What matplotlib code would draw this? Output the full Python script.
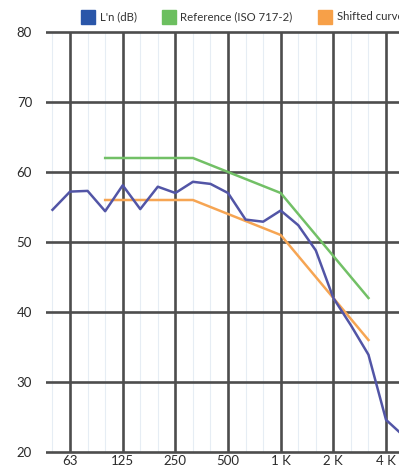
import matplotlib.pyplot as plt
import numpy as np

# third-octave band centres (Hz)
freqs = [50, 63, 80, 100, 125, 160, 200, 250, 315, 400, 500, 630, 800,
         1000, 1250, 1600, 2000, 2500, 3150, 4000, 5000]
octave_ticks = [63, 125, 250, 500, 1000, 2000, 4000]
octave_labels = ['63', '125', '250', '500', '1 K', '2 K', '4 K']

# measured L'n (dB), 50 Hz .. 5 kHz
ln_vals = [54.6, 57.2, 57.3, 54.4, 58.1, 54.7, 57.9, 57.0, 58.6, 58.3, 57.0,
           53.2, 52.9, 54.5, 52.4, 48.8, 42.0, 38.1, 33.9, 24.6, 22.3]

# ISO 717-2 reference curve, 100 Hz .. 3150 Hz
ref_freqs = freqs[3:19]
ref_vals = [62, 62, 62, 62, 62, 62, 61, 60, 59, 58, 57, 54, 51, 48, 45, 42]
shift = -6
shifted_vals = [v + shift for v in ref_vals]

c_blue = '#5255a6'
c_green = '#72c066'
c_orange = '#f6a553'

def idx(f_list):
    return [freqs.index(f) for f in f_list]

plt.rcParams['font.family'] = ['Lato', 'DejaVu Sans']

fig = plt.figure(figsize=(3.99, 4.69), dpi=100)
W, H = 399, 469
ylo, yhi = 19.6, 80.4
top_px = 32 - 0.4 * 7
bot_px = 452 + 0.4 * 7
ax = fig.add_axes([46 / W, 1 - bot_px / H, 1 - 46 / W, (bot_px - top_px) / H])

# grid
for i in range(len(freqs)):
    ax.vlines(i, 20, 80, color='#e6edf4', lw=0.8, zorder=1)
for f in octave_ticks:
    ax.vlines(freqs.index(f), 20, 80, color='#4d4d4d', lw=1.9, zorder=2)
for y in range(20, 81, 10):
    ax.axhline(y, color='#4d4d4d', lw=1.9, zorder=2)

x_all = np.arange(len(freqs))
ax.plot(x_all, ln_vals, color=c_blue, lw=1.8, zorder=5, label="L'n (dB)")
ax.plot(idx(ref_freqs), ref_vals, color=c_green, lw=1.8, zorder=4,
        label='Reference (ISO 717-2)')
ax.plot(idx(ref_freqs), shifted_vals, color=c_orange, lw=1.8, zorder=4,
        label='Shifted curve')

ax.set_xlim(-0.37, 19.74)
ax.set_ylim(ylo, yhi)
ax.set_xticks(idx(octave_ticks))
ax.set_xticklabels(octave_labels)
ax.set_yticks(range(20, 81, 10))
ax.tick_params(length=0, labelsize=9.5, colors='#2b2b2b')
ax.tick_params(axis='x', pad=0.5)
ax.tick_params(axis='y', pad=10)
for s in ax.spines.values():
    s.set_visible(False)

# legend with square swatches
handles = [plt.Line2D([], [], marker='s', ls='', markersize=9.4, color=c)
           for c in ['#2a56a9', '#6cbf5f', '#f7a048']]
labels = ["L'n (dB)", 'Reference (ISO 717-2)', 'Shifted curve']
fig.legend(handles, labels, loc='center left', bbox_to_anchor=(82 / W, 1 - 17 / H),
           ncol=3, frameon=False, fontsize=8.2, handlelength=1.1,
           handletextpad=0.45, columnspacing=2.3, borderaxespad=0,
           borderpad=0, labelcolor='#333333')

plt.savefig('out.png', dpi=100)
